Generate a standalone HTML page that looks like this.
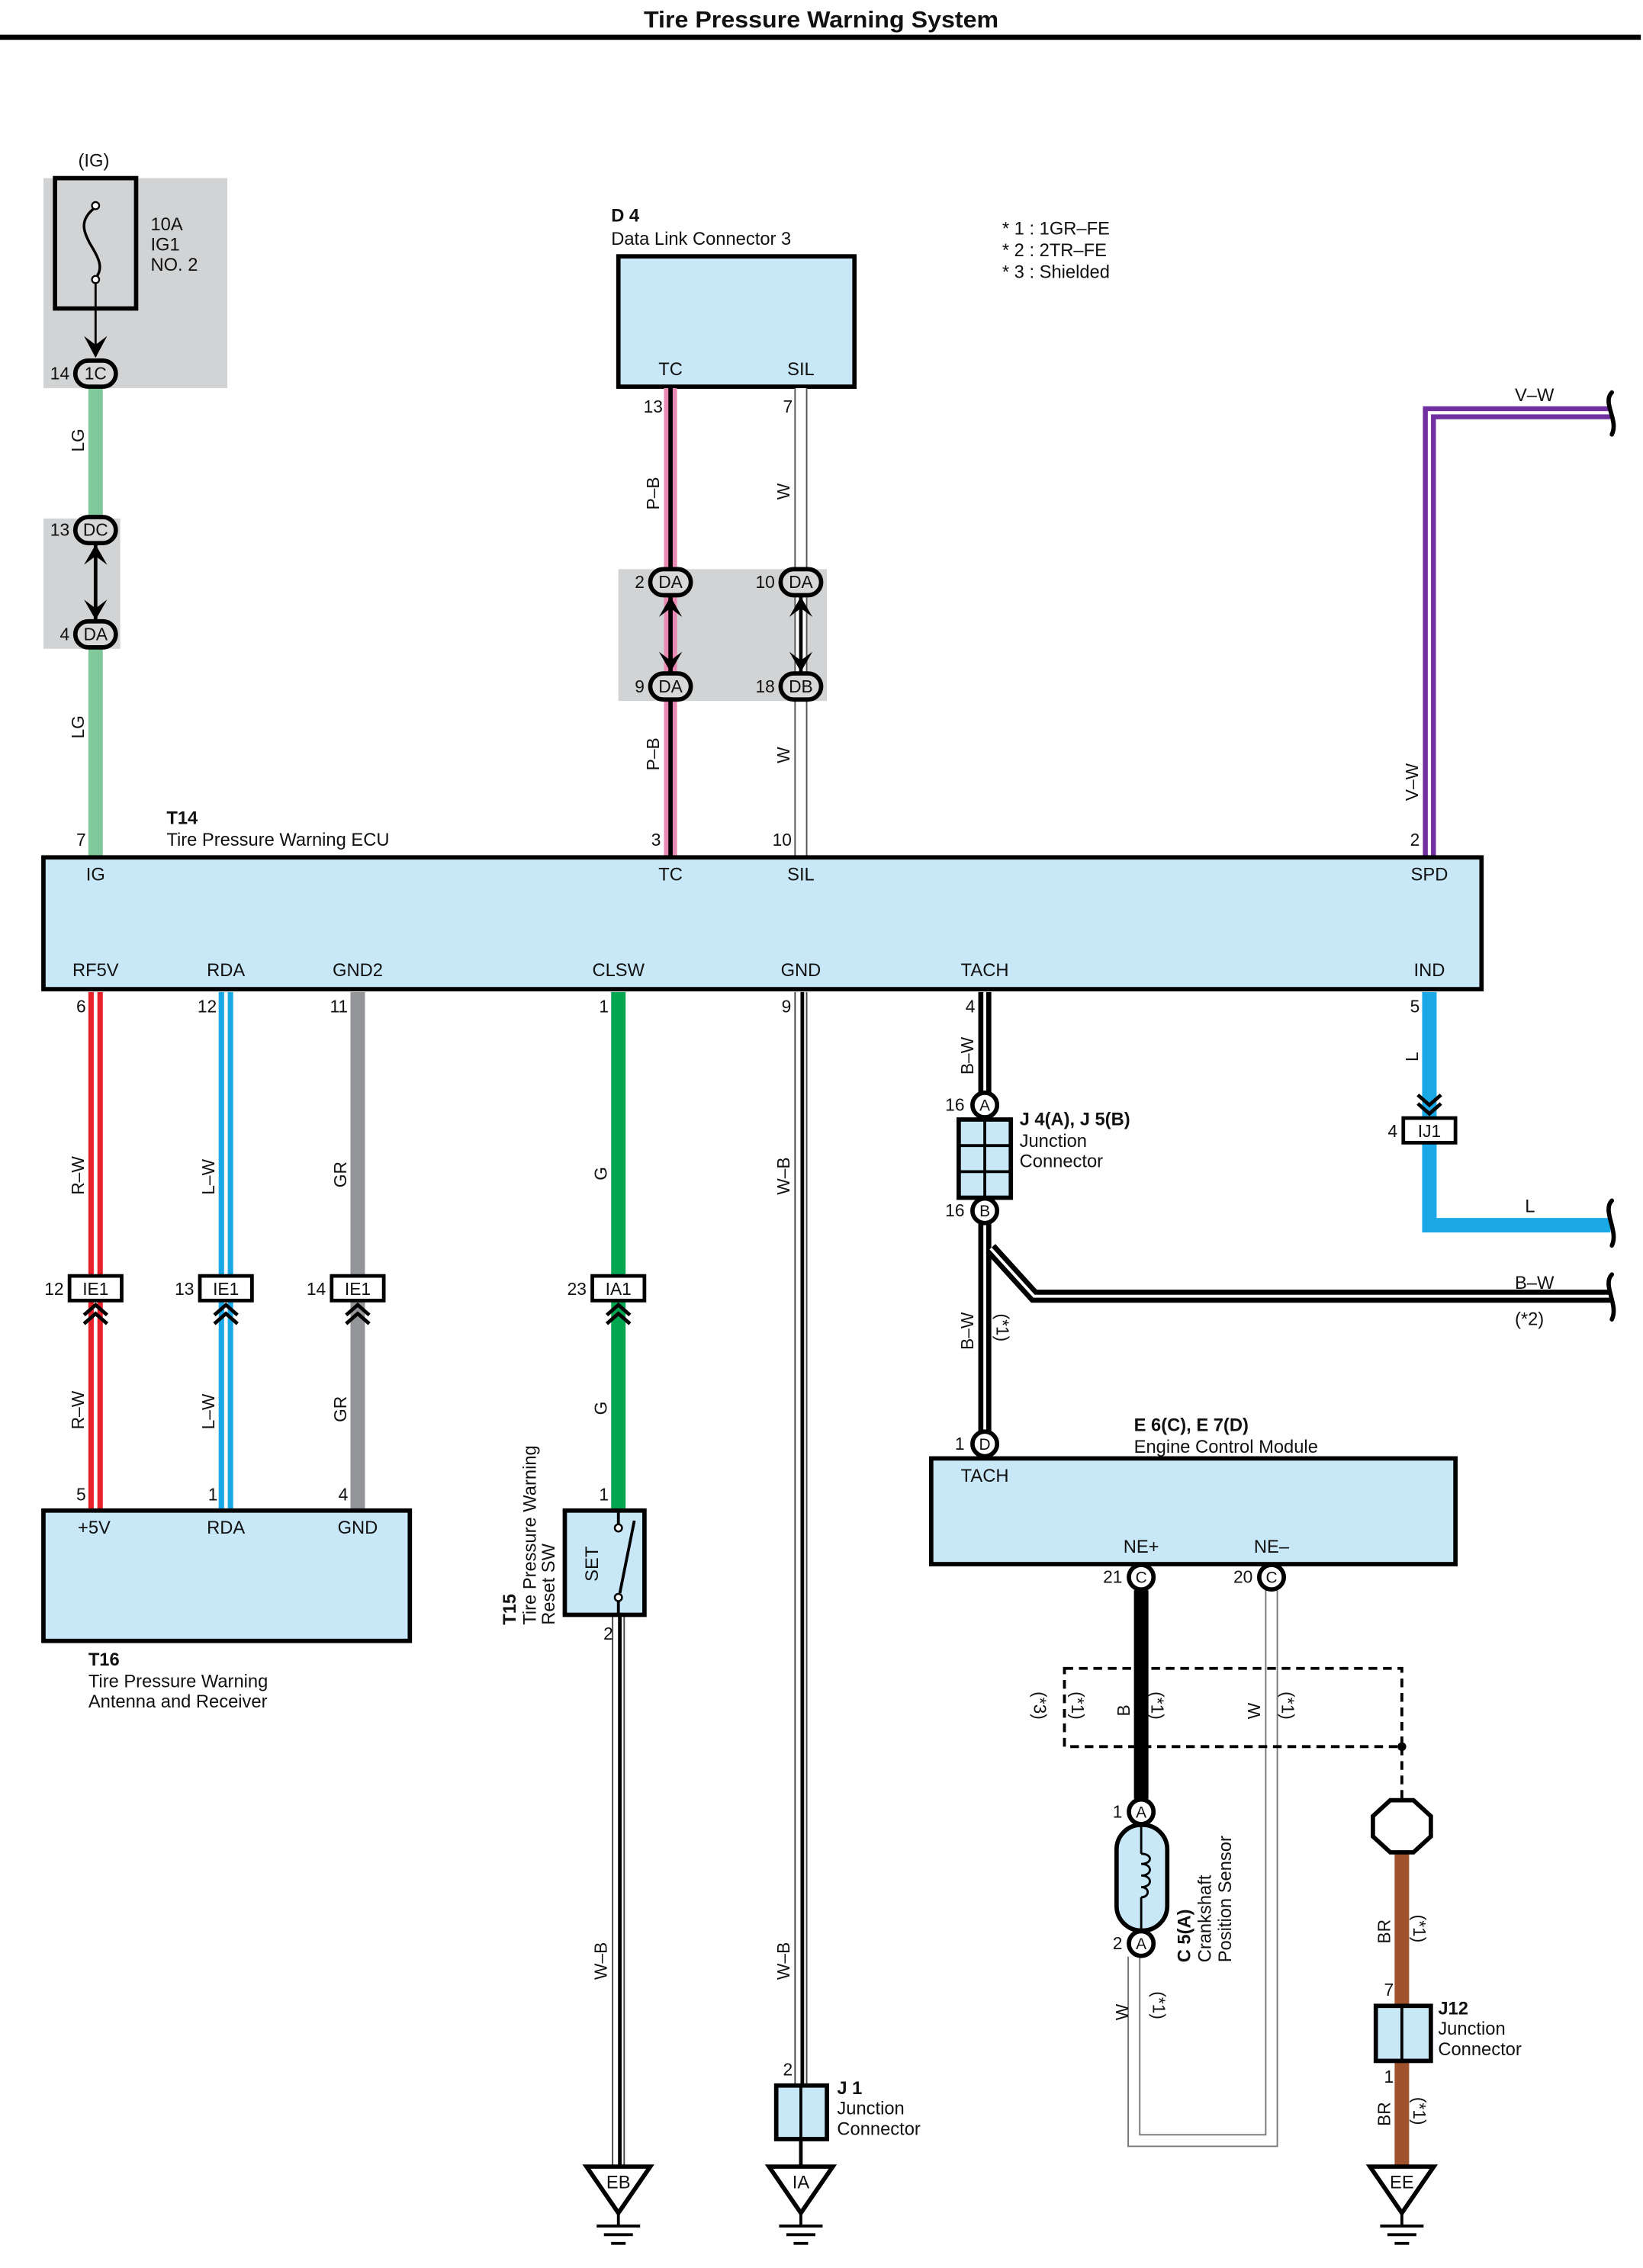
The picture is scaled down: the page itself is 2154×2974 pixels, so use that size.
<!DOCTYPE html>
<html><head><meta charset="utf-8"><style>
html,body{margin:0;padding:0;background:#fff}
svg{display:block}
text{font-family:"Liberation Sans",sans-serif;fill:#111}
</style></head><body>
<svg width="2154" height="2974" viewBox="0 0 1134.5 1566" preserveAspectRatio="none" xmlns="http://www.w3.org/2000/svg">
<rect width="1134.5" height="1566" fill="#fff"/>
<text x="567" y="19" font-size="16" font-weight="bold" text-anchor="middle" textLength="245" lengthAdjust="spacingAndGlyphs">Tire Pressure Warning System</text>
<rect x="0" y="24" width="1133" height="3.5" fill="#000"/>

<g font-size="12.5">
<text x="692" y="162">* 1 : 1GR–FE</text>
<text x="692" y="177">* 2 : 2TR–FE</text>
<text x="692" y="192">* 3 : Shielded</text>
</g>

<rect x="30" y="123" width="127" height="145" fill="#d1d3d4"/>
<rect x="30" y="358" width="53" height="90" fill="#d1d3d4"/>
<rect x="427" y="393" width="144" height="91" fill="#d1d3d4"/>

<text x="54" y="115" font-size="12.5">(IG)</text>
<rect x="38" y="123" width="56" height="90" fill="none" stroke="#000" stroke-width="3"/>
<path d="M66 143 C54 152,58 160,62 168 C68 178,72 185,66 192" fill="none" stroke="#000" stroke-width="1.8"/>
<circle cx="66" cy="142" r="2.5" fill="#fff" stroke="#000" stroke-width="1.2"/>
<circle cx="66" cy="193" r="2.5" fill="#fff" stroke="#000" stroke-width="1.2"/>
<line x1="66" y1="196" x2="66" y2="246" stroke="#000" stroke-width="1.5"/>
<g font-size="12.5"><text x="104" y="159">10A</text><text x="104" y="173">IG1</text><text x="104" y="187">NO. 2</text></g>

<line x1="66" y1="266" x2="66" y2="360" stroke="#7ec89a" stroke-width="10"/>
<line x1="66" y1="446" x2="66" y2="592" stroke="#7ec89a" stroke-width="10"/>
<g font-size="12"><text transform="translate(58,312) rotate(-90)">LG</text><text transform="translate(58,510) rotate(-90)">LG</text></g>

<text x="422" y="153" font-size="12.5" font-weight="bold">D 4</text>
<text x="422" y="169" font-size="12.5">Data Link Connector 3</text>
<rect x="427" y="177" width="163" height="90" fill="#c8e8f8" stroke="#000" stroke-width="3"/>
<text x="463" y="259" font-size="12.5" text-anchor="middle">TC</text>
<text x="553" y="259" font-size="12.5" text-anchor="middle">SIL</text>
<line x1="463" y1="268" x2="463" y2="592" stroke="#ea8ab4" stroke-width="9"/>
<line x1="463" y1="268" x2="463" y2="592" stroke="#000" stroke-width="3"/>
<line x1="553" y1="268" x2="553" y2="592" stroke="#555" stroke-width="9"/>
<line x1="553" y1="268" x2="553" y2="592" stroke="#fff" stroke-width="7"/>
<g font-size="12">
<text x="451" y="285" text-anchor="middle">13</text><text x="544" y="285" text-anchor="middle">7</text>
<text transform="translate(455,352) rotate(-90)">P–B</text><text transform="translate(545,345) rotate(-90)">W</text>
<text transform="translate(455,532) rotate(-90)">P–B</text><text transform="translate(545,527) rotate(-90)">W</text>
</g>

<path d="M987 592 V285 H1112" fill="none" stroke="#7030a0" stroke-width="9"/>
<path d="M987 592 V285 H1112" fill="none" stroke="#fff" stroke-width="2.2"/>
<path d="M1113 271 C1106 278,1118 290,1113 300" fill="none" stroke="#000" stroke-width="3" stroke-linecap="round"/>
<text x="1046" y="277" font-size="12.5">V–W</text>
<text transform="translate(979,553) rotate(-90)" font-size="12">V–W</text>

<g stroke="#000" stroke-width="3" fill="#d8d8d8">
<rect x="52" y="249" width="28" height="18" rx="9"/>
<rect x="52" y="357" width="28" height="18" rx="9"/>
<rect x="52" y="429" width="28" height="18" rx="9"/>
<rect x="449" y="393" width="28" height="18" rx="9"/>
<rect x="539" y="393" width="28" height="18" rx="9"/>
<rect x="449" y="465" width="28" height="18" rx="9"/>
<rect x="539" y="465" width="28" height="18" rx="9"/>
</g>
<g font-size="12" text-anchor="middle">
<text x="66" y="262">1C</text><text x="66" y="370">DC</text><text x="66" y="442">DA</text>
<text x="463" y="406">DA</text><text x="553" y="406">DA</text><text x="463" y="478">DA</text><text x="553" y="478">DB</text>
</g>
<g font-size="12" text-anchor="end">
<text x="48" y="262">14</text><text x="48" y="370">13</text><text x="48" y="442">4</text>
<text x="445" y="406">2</text><text x="535" y="406">10</text><text x="445" y="478">9</text><text x="535" y="478">18</text>
</g>
<g stroke="#000" stroke-width="2.5" fill="none">
<line x1="66" y1="376" x2="66" y2="428"/>
<line x1="463" y1="412" x2="463" y2="464"/>
<line x1="553" y1="412" x2="553" y2="464"/>
</g>
<g fill="#000">
<path d="M58 232 L66 247 L74 232 L66 238Z"/>
<path d="M58 390 L66 376 L74 390 L66 384Z"/><path d="M58 414 L66 428 L74 414 L66 420Z"/>
<path d="M455 426 L463 412 L471 426 L463 420Z"/><path d="M455 450 L463 464 L471 450 L463 456Z"/>
<path d="M545 426 L553 412 L561 426 L553 420Z"/><path d="M545 450 L553 464 L561 450 L553 456Z"/>
</g>

<text x="115" y="569" font-size="12.5" font-weight="bold">T14</text>
<text x="115" y="584" font-size="12.5">Tire Pressure Warning ECU</text>
<rect x="30" y="592" width="993" height="91" fill="#c8e8f8" stroke="#000" stroke-width="3"/>
<g font-size="12.5" text-anchor="middle">
<text x="66" y="608">IG</text><text x="463" y="608">TC</text><text x="553" y="608">SIL</text><text x="987" y="608">SPD</text>
<text x="66" y="674">RF5V</text><text x="156" y="674">RDA</text><text x="247" y="674">GND2</text><text x="427" y="674">CLSW</text>
<text x="553" y="674">GND</text><text x="680" y="674">TACH</text><text x="987" y="674">IND</text>
</g>
<g font-size="12" text-anchor="middle">
<text x="56" y="584">7</text><text x="453" y="584">3</text><text x="540" y="584">10</text><text x="977" y="584">2</text>
<text x="56" y="699">6</text><text x="143" y="699">12</text><text x="234" y="699">11</text><text x="417" y="699">1</text>
<text x="543" y="699">9</text><text x="670" y="699">4</text><text x="977" y="699">5</text>
</g>

<g>
<line x1="66" y1="685" x2="66" y2="1042" stroke="#e8222b" stroke-width="10"/>
<line x1="66" y1="685" x2="66" y2="1042" stroke="#fff" stroke-width="2.5"/>
<line x1="156" y1="685" x2="156" y2="1042" stroke="#1aa9e6" stroke-width="10"/>
<line x1="156" y1="685" x2="156" y2="1042" stroke="#fff" stroke-width="2.5"/>
<line x1="247" y1="685" x2="247" y2="1042" stroke="#939598" stroke-width="10"/>
<line x1="427" y1="685" x2="427" y2="1042" stroke="#00a650" stroke-width="10"/>
<line x1="553" y1="685" x2="553" y2="1440" stroke="#444" stroke-width="9"/>
<line x1="553" y1="685" x2="553" y2="1440" stroke="#fff" stroke-width="7"/>
<line x1="554" y1="685" x2="554" y2="1440" stroke="#000" stroke-width="2.5"/>
<line x1="553" y1="1477" x2="553" y2="1496" stroke="#000" stroke-width="2.5"/>
<line x1="427" y1="1116" x2="427" y2="1496" stroke="#444" stroke-width="9"/>
<line x1="427" y1="1116" x2="427" y2="1496" stroke="#fff" stroke-width="7"/>
<line x1="428" y1="1116" x2="428" y2="1496" stroke="#000" stroke-width="2.5"/>
<path d="M680 685 V996" fill="none" stroke="#000" stroke-width="9"/>
<path d="M680 685 V996" fill="none" stroke="#fff" stroke-width="2"/>
<path d="M684 862 L714 895 H1112" fill="none" stroke="#000" stroke-width="9"/>
<path d="M684 862 L714 895 H1112" fill="none" stroke="#fff" stroke-width="2"/>
<path d="M987 685 V846 H1112" fill="none" stroke="#1aa9e6" stroke-width="10"/>
</g>
<path d="M1113 829 C1106 836,1118 850,1113 860" fill="none" stroke="#000" stroke-width="3" stroke-linecap="round"/>
<path d="M1113 880 C1106 887,1118 901,1113 911" fill="none" stroke="#000" stroke-width="3" stroke-linecap="round"/>
<text x="1053" y="837" font-size="12.5">L</text>
<text x="1046" y="890" font-size="12.5">B–W</text>
<text x="1046" y="915" font-size="12.5">(*2)</text>

<g font-size="12">
<text transform="translate(58,825) rotate(-90)">R–W</text>
<text transform="translate(148,825) rotate(-90)">L–W</text>
<text transform="translate(239,820) rotate(-90)">GR</text>
<text transform="translate(419,815) rotate(-90)">G</text>
<text transform="translate(545,825) rotate(-90)">W–B</text>
<text transform="translate(672,742) rotate(-90)">B–W</text>
<text transform="translate(979,733) rotate(-90)">L</text>
<text transform="translate(58,987) rotate(-90)">R–W</text>
<text transform="translate(148,987) rotate(-90)">L–W</text>
<text transform="translate(239,982) rotate(-90)">GR</text>
<text transform="translate(419,977) rotate(-90)">G</text>
<text transform="translate(672,932) rotate(-90)">B–W</text>
<text transform="translate(688,907) rotate(90)">(*1)</text>
<text transform="translate(419,1367) rotate(-90)">W–B</text>
<text transform="translate(545,1367) rotate(-90)">W–B</text>
</g>

<g stroke="#000" stroke-width="2.5" fill="#fff">
<rect x="48" y="881" width="36" height="17"/>
<rect x="138" y="881" width="36" height="17"/>
<rect x="229" y="881" width="36" height="17"/>
<rect x="409" y="881" width="36" height="17"/>
<rect x="969" y="772" width="36" height="17"/>
</g>
<g font-size="12" text-anchor="middle">
<text x="66" y="894">IE1</text><text x="156" y="894">IE1</text><text x="247" y="894">IE1</text><text x="427" y="894">IA1</text><text x="987" y="785">IJ1</text>
</g>
<g font-size="12" text-anchor="end">
<text x="44" y="894">12</text><text x="134" y="894">13</text><text x="225" y="894">14</text><text x="405" y="894">23</text><text x="965" y="785">4</text>
</g>
<g fill="none" stroke="#000" stroke-width="2.5">
<path d="M58 908 L66 901 L74 908 M58 914 L66 907 L74 914"/>
<path d="M148 908 L156 901 L164 908 M148 914 L156 907 L164 914"/>
<path d="M239 908 L247 901 L255 908 M239 914 L247 907 L255 914"/>
<path d="M419 908 L427 901 L435 908 M419 914 L427 907 L435 914"/>
<path d="M979 756 L987 763 L995 756 M979 762 L987 769 L995 762"/>
</g>

<rect x="30" y="1043" width="253" height="90" fill="#c8e8f8" stroke="#000" stroke-width="3"/>
<g font-size="12.5" text-anchor="middle"><text x="65" y="1059">+5V</text><text x="156" y="1059">RDA</text><text x="247" y="1059">GND</text></g>
<g font-size="12" text-anchor="middle"><text x="56" y="1036">5</text><text x="147" y="1036">1</text><text x="237" y="1036">4</text><text x="417" y="1036">1</text></g>
<text x="61" y="1150" font-size="12.5" font-weight="bold">T16</text>
<text x="61" y="1165" font-size="12.5">Tire Pressure Warning</text>
<text x="61" y="1179" font-size="12.5">Antenna and Receiver</text>

<rect x="390" y="1043" width="55" height="72" fill="#c8e8f8" stroke="#000" stroke-width="3"/>
<line x1="427" y1="1043" x2="427" y2="1053" stroke="#000" stroke-width="2"/>
<line x1="427" y1="1104" x2="427" y2="1115" stroke="#000" stroke-width="2"/>
<line x1="428" y1="1100" x2="438" y2="1050" stroke="#000" stroke-width="2"/>
<circle cx="427" cy="1055" r="2.5" fill="#fff" stroke="#000" stroke-width="1.3"/>
<circle cx="427" cy="1103" r="2.5" fill="#fff" stroke="#000" stroke-width="1.3"/>
<text transform="translate(413,1092) rotate(-90)" font-size="12.5">SET</text>
<text x="420" y="1132" font-size="12" text-anchor="middle">2</text>
<text transform="translate(356,1122) rotate(-90)" font-size="12.5" font-weight="bold">T15</text>
<text transform="translate(370,1122) rotate(-90)" font-size="12.5">Tire Pressure Warning</text>
<text transform="translate(383,1122) rotate(-90)" font-size="12.5">Reset SW</text>

<rect x="536" y="1440" width="35" height="37" fill="#c8e8f8" stroke="#000" stroke-width="3"/>
<line x1="553" y1="1440" x2="553" y2="1477" stroke="#000" stroke-width="2"/>
<text x="544" y="1433" font-size="12" text-anchor="middle">2</text>
<text x="578" y="1446" font-size="12.5" font-weight="bold">J 1</text>
<text x="578" y="1460" font-size="12.5">Junction</text>
<text x="578" y="1474" font-size="12.5">Connector</text>

<rect x="662" y="773" width="36" height="54" fill="#c8e8f8" stroke="#000" stroke-width="3"/>
<g stroke="#000" stroke-width="2"><line x1="680" y1="773" x2="680" y2="827"/><line x1="662" y1="791" x2="698" y2="791"/><line x1="662" y1="809" x2="698" y2="809"/></g>
<text x="704" y="777" font-size="12.5" font-weight="bold">J 4(A), J 5(B)</text>
<text x="704" y="792" font-size="12.5">Junction</text>
<text x="704" y="806" font-size="12.5">Connector</text>

<text x="783" y="988" font-size="12.5" font-weight="bold">E 6(C), E 7(D)</text>
<text x="783" y="1003" font-size="12.5">Engine Control Module</text>
<rect x="643" y="1007" width="362" height="73" fill="#c8e8f8" stroke="#000" stroke-width="3"/>
<g font-size="12.5" text-anchor="middle"><text x="680" y="1023">TACH</text><text x="788" y="1072">NE+</text><text x="878" y="1072">NE–</text></g>

<line x1="788" y1="1098" x2="788" y2="1242" stroke="#000" stroke-width="10"/>
<path d="M878 1098 V1478 H783 V1351" fill="none" stroke="#777" stroke-width="9"/>
<path d="M878 1098 V1478 H783 V1351" fill="none" stroke="#fff" stroke-width="7"/>
<rect x="735" y="1152" width="233" height="54" fill="none" stroke="#000" stroke-width="2" stroke-dasharray="6,4"/>
<line x1="968" y1="1206" x2="968" y2="1242" stroke="#000" stroke-width="2" stroke-dasharray="6,4"/>
<circle cx="968" cy="1206" r="3" fill="#000"/>
<g font-size="12">
<text transform="translate(714,1168) rotate(90)">(*3)</text>
<text transform="translate(740,1168) rotate(90)">(*1)</text>
<text transform="translate(780,1185) rotate(-90)">B</text>
<text transform="translate(795,1168) rotate(90)">(*1)</text>
<text transform="translate(870,1187) rotate(-90)">W</text>
<text transform="translate(885,1168) rotate(90)">(*1)</text>
<text transform="translate(779,1395) rotate(-90)">W</text>
<text transform="translate(796,1375) rotate(90)">(*1)</text>
</g>
<rect x="771" y="1260" width="35" height="73" rx="17" fill="#c8e8f8" stroke="#000" stroke-width="3"/>
<path d="M788 1260 V1280 M788 1310 V1333" stroke="#000" stroke-width="1.5"/>
<path d="M788 1280 c8 0,8 7,0 7 c8 0,8 8,0 8 c8 0,8 8,0 8 c6 0,6 7,0 7" fill="none" stroke="#000" stroke-width="1.5"/>
<text transform="translate(822,1355) rotate(-90)" font-size="12.5" font-weight="bold">C 5(A)</text>
<text transform="translate(836,1355) rotate(-90)" font-size="12.5">Crankshaft</text>
<text transform="translate(850,1355) rotate(-90)" font-size="12.5">Position Sensor</text>

<line x1="968" y1="1278" x2="968" y2="1495" stroke="#a0522d" stroke-width="10"/>
<polygon points="960,1243 976,1243 988,1254 988,1268 976,1279 960,1279 948,1268 948,1254" fill="#fff" stroke="#000" stroke-width="3"/>
<rect x="950" y="1385" width="38" height="38" fill="#c8e8f8" stroke="#000" stroke-width="3"/>
<line x1="968" y1="1385" x2="968" y2="1423" stroke="#000" stroke-width="2"/>
<g font-size="12">
<text transform="translate(960,1342) rotate(-90)">BR</text>
<text transform="translate(976,1322) rotate(90)">(*1)</text>
<text transform="translate(960,1468) rotate(-90)">BR</text>
<text transform="translate(976,1448) rotate(90)">(*1)</text>
<text x="959" y="1378" text-anchor="middle">7</text>
<text x="959" y="1438" text-anchor="middle">1</text>
</g>
<text x="993" y="1391" font-size="12.5" font-weight="bold">J12</text>
<text x="993" y="1405" font-size="12.5">Junction</text>
<text x="993" y="1419" font-size="12.5">Connector</text>

<g stroke="#000" stroke-width="3" fill="#fff">
<circle cx="680" cy="763" r="8.5"/><circle cx="680" cy="836" r="8.5"/><circle cx="680" cy="997" r="8.5"/>
<circle cx="788" cy="1089" r="8.5"/><circle cx="878" cy="1089" r="8.5"/>
<circle cx="788" cy="1251" r="8.5"/><circle cx="788" cy="1342" r="8.5"/>
</g>
<g font-size="11" text-anchor="middle">
<text x="680" y="767">A</text><text x="680" y="840">B</text><text x="680" y="1001">D</text>
<text x="788" y="1093">C</text><text x="878" y="1093">C</text><text x="788" y="1255">A</text><text x="788" y="1346">A</text>
</g>
<g font-size="12" text-anchor="end">
<text x="666" y="767">16</text><text x="666" y="840">16</text><text x="666" y="1001">1</text>
<text x="775" y="1093">21</text><text x="865" y="1093">20</text><text x="775" y="1255">1</text><text x="775" y="1346">2</text>
</g>

<g stroke="#000" stroke-width="3" fill="#fff">
<polygon points="405,1496 449,1496 427,1528"/>
<polygon points="531,1496 575,1496 553,1528"/>
<polygon points="946,1496 990,1496 968,1528"/>
</g>
<g stroke="#000" stroke-width="2">
<path d="M427 1528 V1537 M412 1537 H442 M417 1543 H437 M422 1549 H432"/>
<path d="M553 1528 V1537 M538 1537 H568 M543 1543 H563 M548 1549 H558"/>
<path d="M968 1528 V1537 M953 1537 H983 M958 1543 H978 M963 1549 H973"/>
</g>
<g font-size="12.5" text-anchor="middle"><text x="427" y="1511">EB</text><text x="553" y="1511">IA</text><text x="968" y="1511">EE</text></g>
</svg>
</body></html>
